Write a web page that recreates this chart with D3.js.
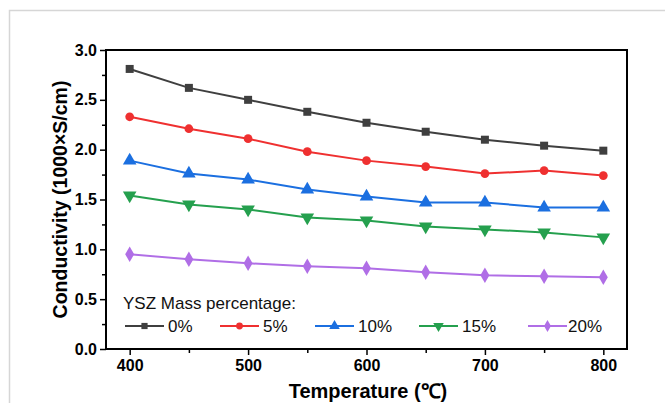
<!DOCTYPE html>
<html>
<head>
<meta charset="utf-8">
<script src="https://cdn.jsdelivr.net/npm/d3@7"></script>
<style>
  body { margin: 0; background: #fff; }
  text { font-family: Arial, "Liberation Sans", sans-serif; }
</style>
</head>
<body>
<div class="chart"></div>
<script>
var svgWidth = 665;
var svgHeight = 403;

var margin = { top: 50, right: 38, bottom: 54, left: 106 };
var width = svgWidth - margin.left - margin.right;
var height = svgHeight - margin.top - margin.bottom;

// data
var temps = [400, 450, 500, 550, 600, 650, 700, 750, 800];
var labels = ["0%", "5%", "10%", "15%", "20%"];
var ysz0 = [2.81, 2.62, 2.50, 2.38, 2.27, 2.18, 2.10, 2.04, 1.99];
var ysz5 = [2.33, 2.21, 2.11, 1.98, 1.89, 1.83, 1.76, 1.79, 1.74];
var ysz10 = [1.89, 1.76, 1.70, 1.60, 1.53, 1.47, 1.47, 1.42, 1.42];
var ysz15 = [1.54, 1.45, 1.40, 1.32, 1.29, 1.23, 1.20, 1.17, 1.12];
var ysz20 = [0.95, 0.90, 0.86, 0.83, 0.81, 0.77, 0.74, 0.73, 0.72];
var xTicks = [400, 500, 600, 700, 800];
var yTicks = [0, 0.5, 1.0, 1.5, 2.0, 2.5, 3.0];

var colors = ["#3f3f3f", "#ef3030", "#1b6fe0", "#25a04e", "#b06ee6"];
var shapes = [d3.symbolSquare, d3.symbolCircle, d3.symbolTriangle, "down", d3.symbolDiamond];
var series = [ysz0, ysz5, ysz10, ysz15, ysz20];

var svg = d3.select(".chart")
  .append("svg")
  .attr("width", svgWidth)
  .attr("height", svgHeight);

// light frame around the figure
svg.append("path")
  .attr("d", "M9.5," + svgHeight + "V10.5H" + svgWidth)
  .attr("fill", "none")
  .attr("stroke", "#d6d6d6")
  .attr("stroke-width", 1.5);

var chartGroup = svg.append("g")
  .attr("transform", `translate(${margin.left}, ${margin.top})`);

var xScale = d3.scaleLinear().domain([380, 820]).range([0, width]);
var yScale = d3.scaleLinear().domain([0, 3]).range([height, 0]);

// minor ticks
var xMinor = d3.range(450, 800, 100);
var yMinor = d3.range(0.25, 3, 0.5);

chartGroup.append("g")
  .attr("transform", `translate(0, ${height})`)
  .call(d3.axisBottom(xScale).tickValues(xMinor).tickSize(4).tickFormat(""))
  .call(g => g.select(".domain").remove())
  .selectAll("line").attr("stroke-width", 1.5);

chartGroup.append("g")
  .call(d3.axisLeft(yScale).tickValues(yMinor).tickSize(4).tickFormat(""))
  .call(g => g.select(".domain").remove())
  .selectAll("line").attr("stroke-width", 1.5);

var xAxis = chartGroup.append("g")
  .attr("transform", `translate(0, ${height})`)
  .call(d3.axisBottom(xScale).tickValues(xTicks).tickSize(6).tickPadding(5).tickFormat(d3.format("d")));
xAxis.select(".domain").remove();
xAxis.selectAll("line").attr("stroke-width", 1.5);
xAxis.selectAll("text")
  .attr("font-size", 16)
  .attr("font-weight", "bold")
  .attr("fill", "#000")
  .style("font-family", "Arial, 'Liberation Sans', sans-serif");

var yAxis = chartGroup.append("g")
  .call(d3.axisLeft(yScale).tickValues(yTicks).tickSize(6).tickPadding(3).tickFormat(d3.format(".1f")));
yAxis.select(".domain").remove();
yAxis.selectAll("line").attr("stroke-width", 1.5);
yAxis.selectAll("text")
  .attr("font-size", 16)
  .attr("font-weight", "bold")
  .attr("fill", "#000")
  .style("font-family", "Arial, 'Liberation Sans', sans-serif");

// plot frame
chartGroup.append("rect")
  .attr("width", width)
  .attr("height", height)
  .attr("fill", "none")
  .attr("stroke", "#000")
  .attr("stroke-width", 2);

function markerPath(shape, size) {
  if (shape === "down") {
    return d3.symbol().type(d3.symbolTriangle).size(size)();
  }
  return d3.symbol().type(shape).size(size)();
}

var line = d3.line()
  .x((d, i) => xScale(temps[i]))
  .y(d => yScale(d));

var markerSizes = [64, 60, 80, 80, 70];

series.forEach(function(vals, s) {
  chartGroup.append("path")
    .datum(vals)
    .attr("d", line)
    .attr("fill", "none")
    .attr("stroke", colors[s])
    .attr("stroke-width", 2);

  chartGroup.selectAll(".m" + s)
    .data(vals)
    .enter()
    .append("path")
    .attr("class", "m" + s)
    .attr("d", markerPath(shapes[s], markerSizes[s]))
    .attr("transform", (d, i) => `translate(${xScale(temps[i])}, ${yScale(d)})` + (shapes[s] === "down" ? " rotate(180)" : ""))
    .attr("fill", colors[s]);
});

// legend
var legend = svg.append("g");
legend.append("text")
  .attr("x", 123)
  .attr("y", 309)
  .attr("font-size", 17)
  .attr("fill", "#111")
  .text("YSZ Mass percentage:");

var legendX = [125, 220, 315, 419, 528];
labels.forEach(function(lab, s) {
  var g = legend.append("g").attr("transform", `translate(${legendX[s]}, 326)`);
  g.append("line")
    .attr("x1", 0).attr("x2", 39)
    .attr("stroke", colors[s])
    .attr("stroke-width", 2);
  g.append("path")
    .attr("d", markerPath(shapes[s], markerSizes[s] * 0.6))
    .attr("transform", "translate(19.5,0)" + (shapes[s] === "down" ? " rotate(180)" : ""))
    .attr("fill", colors[s]);
  g.append("text")
    .attr("x", s === 4 ? 40 : 43)
    .attr("y", 6)
    .attr("font-size", 17)
    .attr("fill", "#111")
    .text(lab);
});

// axis titles
svg.append("text")
  .attr("transform", `translate(67, ${margin.top + height / 2}) rotate(-90)`)
  .attr("text-anchor", "middle")
  .attr("font-size", 19.5)
  .attr("font-weight", "bold")
  .text("Conductivity (1000×S/cm)");

svg.append("text")
  .attr("x", 368)
  .attr("y", 398)
  .attr("text-anchor", "middle")
  .attr("font-size", 20)
  .attr("font-weight", "bold")
  .text("Temperature (℃)");
</script>
</body>
</html>
